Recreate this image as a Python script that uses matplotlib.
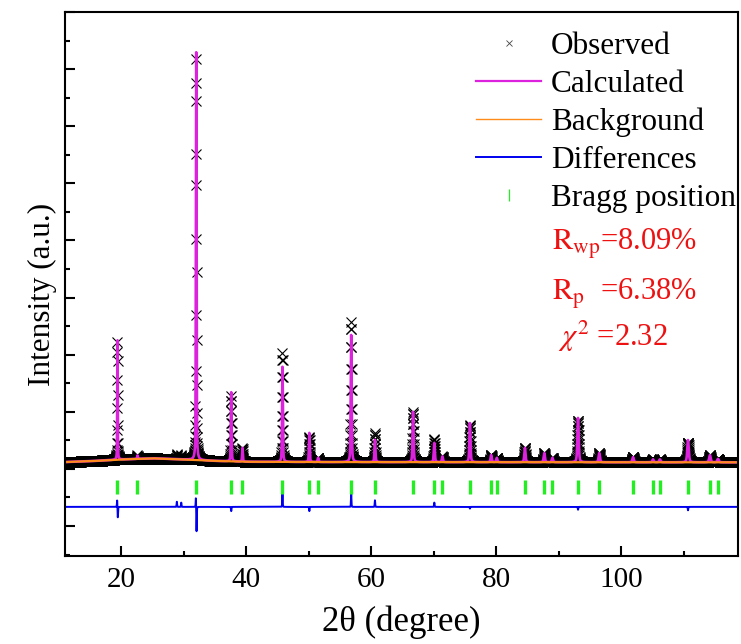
import numpy as np
import matplotlib
matplotlib.use('Agg')
import matplotlib.pyplot as plt
from matplotlib.lines import Line2D
from matplotlib.ticker import MultipleLocator

plt.rcParams['font.family'] = ['Liberation Serif', 'DejaVu Serif']
plt.rcParams['mathtext.fontset'] = 'stix'

# Bragg reflections (2theta, deg) and peak heights above background (counts)
bragg_pos = [19.4, 22.6, 32.0, 37.6, 39.4, 45.8, 50.1, 51.5, 56.8, 60.6, 66.7, 70.1, 71.4,
             75.8, 79.2, 80.1, 84.6, 87.7, 89.0, 93.1, 96.5, 101.9, 105.1, 106.2, 110.7,
             114.2, 115.5]
peak_height = [4180, 120, 14280, 2420, 480, 3330, 1020, 150, 4450, 780, 1760, 670, 200,
               1370, 250, 150, 500, 320, 150, 1550, 320, 180, 100, 100, 780, 250, 120]

# background knots (2theta, counts)
bg_x = [11, 15, 20, 25, 30, 35, 40, 50, 119]
bg_y = [240, 270, 330, 370, 330, 280, 250, 240, 230]

# residual features (obs - calc) at the peaks
diff_pos = [19.35, 19.45, 28.9, 29.6, 31.95, 32.05, 37.6, 45.8, 50.1, 56.8, 60.6, 70.1,
            75.8, 93.1, 110.7]
diff_amp = [250, -390, 180, 150, 350, -900, -150, 480, -150, 450, 230, 150, -60, -100, -120]

diff_offset = -1330
bragg_level = -630

# 2theta scan, 0.02 deg step
tt = np.arange(11.0, 118.7, 0.02)


def pv(x, x0, fwhm, eta=0.4):
    g = np.exp(-4 * np.log(2) * ((x - x0) / fwhm) ** 2)
    l = 1 / (1 + 4 * ((x - x0) / fwhm) ** 2)
    return eta * l + (1 - eta) * g


background = np.interp(tt, bg_x, bg_y)
calc = background.copy()
for p, h in zip(bragg_pos, peak_height):
    calc += h * pv(tt, p, 0.10 + 0.002 * (p - 20))
diff = np.zeros_like(tt)
for p, a in zip(diff_pos, diff_amp):
    diff += a * pv(tt, p, 0.09, eta=0.2)
obs = calc + diff

fig = plt.figure(figsize=(7.41, 6.44), dpi=100)
ax = fig.add_axes([65 / 741, 88 / 644, 673 / 741, 544 / 644])

ax.plot(tt, obs, linestyle='none', marker='x', markersize=6.5, markeredgewidth=0.8,
        color='black')
ax.plot(tt, calc, color='#dd22dd', linewidth=1.9)
ax.plot(tt, background, color='#ff8c1a', linewidth=1.6)
ax.plot(tt, diff + diff_offset, color='#0000ee', linewidth=1.4)
ax.plot(bragg_pos, [bragg_level] * len(bragg_pos), linestyle='none', marker='|',
        markersize=10, markeredgewidth=2.4, color='#22ee22')

ax.set_xlim(11.0, 118.7)
ax.set_ylim(-3050, 16000)
ax.xaxis.set_major_locator(MultipleLocator(20))
ax.xaxis.set_minor_locator(MultipleLocator(10))
ax.yaxis.set_major_locator(MultipleLocator(2000))
ax.yaxis.set_minor_locator(MultipleLocator(1000))
ax.tick_params(which='both', direction='in', width=1.5, top=False, right=False)
ax.tick_params(which='major', length=7, labelsize=21, pad=8)
ax.tick_params(which='minor', length=3.5)
ax.set_yticklabels([])
for s in ax.spines.values():
    s.set_linewidth(1.5)

ax.set_xlabel('2θ (degree)', fontsize=25, labelpad=9)
ax.set_ylabel('Intensity (a.u.)', fontsize=22.5, labelpad=-2)
ax.yaxis.label.set_y(0.48)

handles = [
    Line2D([], [], linestyle='none', marker='x', markersize=5, markeredgewidth=0.6, color='#444444'),
    Line2D([], [], color='#dd22dd', linewidth=1.6),
    Line2D([], [], color='#ff8c1a', linewidth=1.0),
    Line2D([], [], color='#0000ee', linewidth=1.4),
    Line2D([], [], linestyle='none', marker='|', markersize=8, markeredgewidth=0.9, color='#22ee22'),
]
labels = ['Observed', 'Calculated', 'Background', 'Differences', 'Bragg position']
ax.legend(handles, labels, loc='upper right', bbox_to_anchor=(1.027, 1.0), frameon=False,
          fontsize=22.5, handlelength=2.1, handletextpad=0.3, labelspacing=0.28,
          borderaxespad=0.1, borderpad=0.55)

ax.text(0.7236, 0.574, r'$\mathrm{R_{wp}}$=8.09%', transform=ax.transAxes, color='#ee1111',
        fontsize=22, va='center', ha='left')
ax.text(0.7236, 0.482, r'$\mathrm{R_{p}}$  =6.38%', transform=ax.transAxes, color='#ee1111',
        fontsize=22, va='center', ha='left')
ax.text(0.732, 0.403, r'$\chi^{2}$ =2.32', transform=ax.transAxes, color='#ee1111',
        fontsize=22, va='center', ha='left')

fig.savefig('out.png', dpi=100)
